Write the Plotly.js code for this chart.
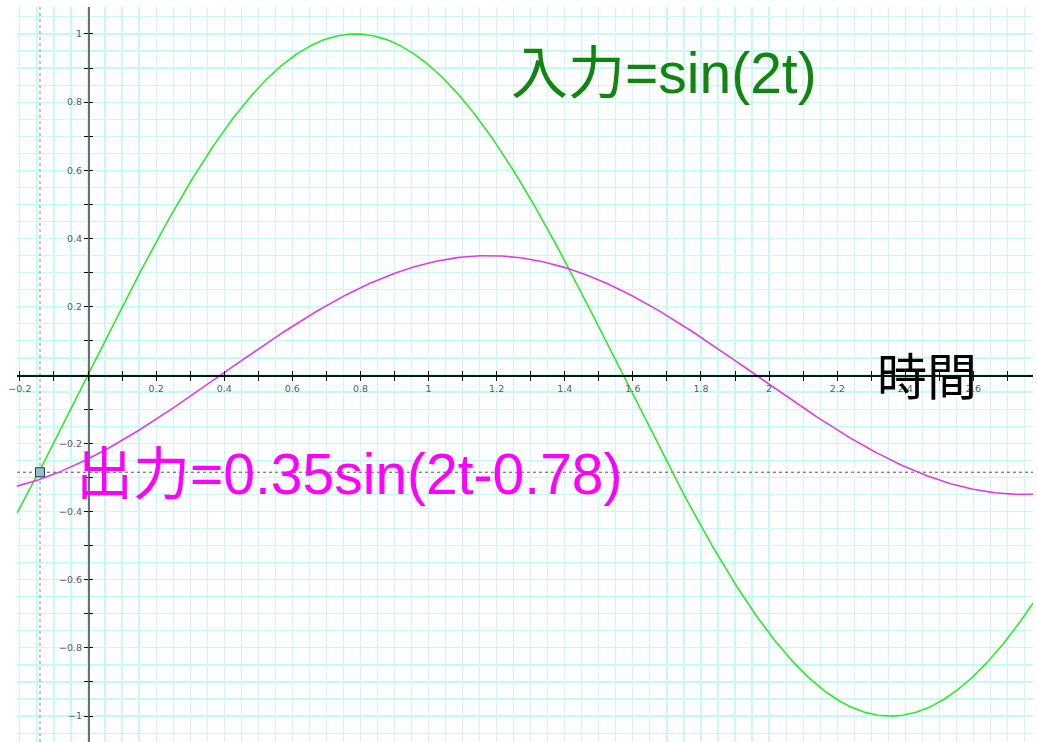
<!DOCTYPE html>
<html>
<head>
<meta charset="utf-8">
<script src="https://cdn.plot.ly/plotly-3.0.1.min.js"></script>
<style>
  html, body { margin: 0; padding: 0; background: #ffffff; }
  #plot { width: 1037px; height: 742px; }
</style>
</head>
<body>
<div id="plot"></div>
<script>
// Input and output sinusoids: y = A * sin(w*t - phi)
const seriesNames = ['入力', '出力'];
const amplitude   = [1, 0.35];
const angularFreq = [2, 2];
const phaseLag    = [0, 0.78];
const seriesLabels = ['入力=sin(2t)', '出力=0.35sin(2t-0.78)'];

// Cursor point and its guide lines
const cursorX = [-0.141];
const cursorY = [-0.285];

// Axis tick marks and their labels
const xTickVals = [-0.2, -0.1, 0, 0.1, 0.2, 0.3, 0.4, 0.5, 0.6, 0.7, 0.8, 0.9, 1, 1.1, 1.2, 1.3, 1.4, 1.5, 1.6, 1.7, 1.8, 1.9, 2, 2.1, 2.2, 2.3, 2.4, 2.5, 2.6, 2.7];
const xTickText = ['\u22120.2', '', '', '', '0.2', '', '0.4', '', '0.6', '', '0.8', '', '1', '', '1.2', '', '1.4', '', '1.6', '', '1.8', '', '2', '', '2.2', '', '2.4', '', '2.6', ''];
const yTickVals = [-1, -0.9, -0.8, -0.7, -0.6, -0.5, -0.4, -0.3, -0.2, -0.1, 0, 0.1, 0.2, 0.3, 0.4, 0.5, 0.6, 0.7, 0.8, 0.9, 1];
const yTickText = ['\u22121', '', '\u22120.8', '', '\u22120.6', '', '\u22120.4', '', '\u22120.2', '', '', '', '0.2', '', '0.4', '', '0.6', '', '0.8', '', '1'];
const gridStep = 0.05;
const axisTitle = '時間';

// Visible window
const xRange = [-0.2085, 2.775];
const yRange = [-1.076, 1.079];

const lineColors = ['#2ee82e', '#dd3fdd'];
const textColors = ['#108510', '#ff00ff'];

// Sample the curves across the window
const N = 800;
const tSamples = [];
for (let i = 0; i <= N; i++) tSamples.push(xRange[0] + (xRange[1] - xRange[0]) * i / N);

const traces = [];
// Cursor guide lines
traces.push({
  type: 'scatter', mode: 'lines',
  x: xRange, y: [cursorY[0], cursorY[0]],
  line: { color: '#555555', width: 1, dash: 'dot' }, hoverinfo: 'skip'
});
traces.push({
  type: 'scatter', mode: 'lines',
  x: [cursorX[0], cursorX[0]], y: yRange,
  line: { color: '#8a8a8a', width: 1, dash: 'dot' }, hoverinfo: 'skip'
});
seriesNames.forEach((name, k) => traces.push({
  type: 'scatter', mode: 'lines', name: name,
  x: tSamples,
  y: tSamples.map(t => amplitude[k] * Math.sin(angularFreq[k] * t - phaseLag[k])),
  line: { color: lineColors[k], width: 1.6 },
  hoverinfo: 'skip'
}));
// Cursor marker
traces.push({
  type: 'scatter', mode: 'markers',
  x: cursorX, y: cursorY,
  marker: { symbol: 'square', size: 9, color: '#8cc2d2', line: { color: '#2a3a40', width: 1 } },
  hoverinfo: 'skip'
});
// Empty traces so the overlaid tick axes are created
['x2', 'x3'].forEach(ax => traces.push({ type: 'scatter', x: [], y: [], xaxis: ax, yaxis: 'y', showlegend: false }));
['y2', 'y3'].forEach(ax => traces.push({ type: 'scatter', x: [], y: [], xaxis: 'x', yaxis: ax, showlegend: false }));

// Fractions where the zero lines sit inside the plot area
const xAxisPos = (0 - yRange[0]) / (yRange[1] - yRange[0]);
const yAxisPos = (0 - xRange[0]) / (xRange[1] - xRange[0]);

const gridColor = '#c8f8f8';
const tickFont = { family: 'DejaVu Sans, sans-serif', size: 9.5, color: '#5a5a5a' };
const labelFont = 'Liberation Sans, Arial, Noto Sans CJK JP, sans-serif';

// Base axes carry only the graph-paper grid
const gridAxis = (range) => ({
  range: range, tickmode: 'linear', tick0: 0, dtick: gridStep,
  showgrid: true, gridcolor: gridColor, gridwidth: 1.2,
  ticks: '', showticklabels: false, showline: false, zeroline: false, fixedrange: true
});
// Free axes through the origin carry the ticks (one set per side, so they cross the line)
const tickAxis = (range, over, pos, vals, side, extra) => Object.assign({
  range: range, overlaying: over, anchor: 'free', position: pos,
  tickmode: 'array', tickvals: vals,
  ticks: side, ticklen: 4, tickwidth: 1, tickcolor: '#111111',
  showgrid: false, zeroline: false, fixedrange: true
}, extra);

const layout = {
  width: 1037, height: 742,
  margin: { l: 17, r: 4, t: 7, b: 0, pad: 0 },
  paper_bgcolor: '#ffffff', plot_bgcolor: '#ffffff',
  showlegend: false,
  xaxis: gridAxis(xRange),
  yaxis: gridAxis(yRange),
  xaxis2: tickAxis(xRange, 'x', xAxisPos, xTickVals, 'outside', {
    ticktext: xTickText, tickfont: tickFont, showticklabels: true,
    showline: true, linecolor: '#111111', linewidth: 1.5
  }),
  xaxis3: tickAxis(xRange, 'x', xAxisPos, xTickVals, 'inside', { showticklabels: false, showline: false }),
  yaxis2: tickAxis(yRange, 'y', yAxisPos, yTickVals, 'outside', {
    ticktext: yTickText, tickfont: tickFont, showticklabels: true,
    showline: true, linecolor: '#6e6e6e', linewidth: 1.5
  }),
  yaxis3: tickAxis(yRange, 'y', yAxisPos, yTickVals, 'inside', { showticklabels: false, showline: false }),
  annotations: [
    {
      text: seriesLabels[0], xref: 'x', yref: 'y', x: 1.237, y: 0.885,
      xanchor: 'left', yanchor: 'middle', showarrow: false,
      font: { family: labelFont, size: 57, color: textColors[0] }
    },
    {
      text: seriesLabels[1], xref: 'x', yref: 'y', x: -0.04, y: -0.29,
      xanchor: 'left', yanchor: 'middle', showarrow: false,
      font: { family: labelFont, size: 57, color: textColors[1] }
    },
    {
      text: axisTitle, xref: 'x', yref: 'y', x: 2.31, y: -0.01,
      xanchor: 'left', yanchor: 'middle', showarrow: false,
      font: { family: labelFont, size: 50, color: '#000000' }
    }
  ]
};

Plotly.newPlot('plot', traces, layout, { staticPlot: true, displayModeBar: false });
</script>
</body>
</html>
